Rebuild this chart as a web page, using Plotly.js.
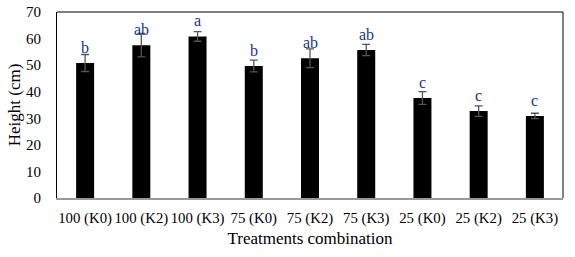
<!DOCTYPE html>
<html>
<head>
<meta charset="utf-8">
<script src="https://cdn.plot.ly/plotly-3.0.1.min.js"></script>
<style>html,body{margin:0;padding:0;background:#fff}#chart{width:575px;height:257px}</style>
</head>
<body>
<div id="chart"></div>
<script>
const categories = ["100 (K0)", "100 (K2)", "100 (K3)", "75 (K0)", "75 (K2)", "75 (K3)", "25 (K0)", "25 (K2)", "25 (K3)"];
const heights = [50.8, 57.5, 60.8, 49.7, 52.6, 55.7, 37.6, 32.7, 30.9];
const errors = [3.2, 4.4, 1.8, 2.2, 3.5, 2.1, 2.4, 2.0, 1.0];
const letters = ["b", "ab", "a", "b", "ab", "ab", "c", "c", "c"];

const serif = "Liberation Serif, Times New Roman, serif";

const trace = {
  type: "bar",
  x: categories,
  y: heights,
  width: 0.32,
  marker: {color: "#000000", line: {width: 0}},
  error_y: {type: "data", array: errors, visible: true, color: "#555555", thickness: 1.3, width: 4},
  hoverinfo: "none"
};

const annotations = categories.map((c, i) => ({
  x: c, y: heights[i], xref: "x", yref: "y",
  text: letters[i], showarrow: false, yanchor: "bottom", yshift: 5,
  font: {family: serif, size: 16, color: "#1a3680"}
}));

const layout = {
  width: 575, height: 257,
  margin: {l: 57, r: 12, t: 12, b: 59},
  paper_bgcolor: "#ffffff", plot_bgcolor: "#ffffff",
  showlegend: false,
  bargap: 0.68,
  xaxis: {
    type: "category",
    showline: true, linecolor: "#999999", linewidth: 1.5, mirror: false,
    showgrid: false, ticks: "", ticklabelstandoff: 6, tickangle: 0,
    tickfont: {family: serif, size: 14.8, color: "#000"},
    title: {text: "Treatments combination", font: {family: serif, size: 17, color: "#000"}, standoff: 6}
  },
  yaxis: {
    range: [0, 70], dtick: 10,
    showline: true, linecolor: "#000", linewidth: 1, mirror: false,
    showgrid: false, zeroline: false, ticks: "", ticklabelstandoff: 12,
    tickfont: {family: serif, size: 15, color: "#000"},
    title: {text: "Height (cm)", font: {family: serif, size: 17, color: "#000"}, standoff: 1}
  },
  annotations: annotations,
  shapes: [
    {type: "line", xref: "paper", yref: "paper", x0: 0, x1: 1, y0: 1, y1: 1, line: {color: "#000", width: 1}},
    {type: "line", xref: "paper", yref: "paper", x0: 1, x1: 1, y0: 0, y1: 1, line: {color: "#000", width: 1}}
  ]
};

Plotly.newPlot("chart", [trace], layout, {staticPlot: true, displayModeBar: false});
</script>
</body>
</html>
